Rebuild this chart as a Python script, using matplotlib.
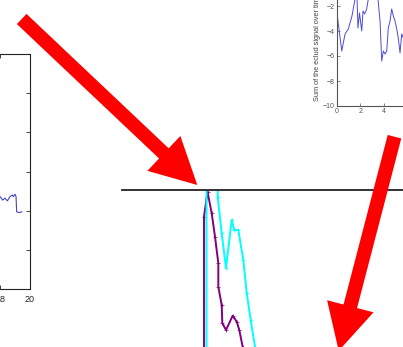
import matplotlib
matplotlib.use("Agg")
import matplotlib.pyplot as plt
from matplotlib.patches import FancyArrow

plt.rcParams['font.family'] = ['Liberation Sans', 'DejaVu Sans']

W, H = 403, 347

# left panel: tail end of a running signal
left_x = [18.0, 18.18, 18.33, 18.49, 18.67, 18.82, 18.89, 19.0, 19.07, 19.11, 19.29, 19.45]
left_y = [2.36, 2.27, 2.32, 2.25, 2.36, 2.40, 2.36, 2.42, 2.36, 1.97, 1.95, 1.97]
left_xticks = list(range(0, 21, 2))
left_xlabels = ['' if t < 18 else str(t) for t in left_xticks]

# top right panel: summed euclid signal
sum_x = [0.0, 0.43, 0.71, 0.99, 1.30, 1.56, 1.73, 1.81, 1.94, 2.13, 2.24, 2.38, 2.55,
         2.69, 3.0, 3.3, 3.51, 3.69, 3.83, 3.97, 4.11, 4.26, 4.39, 4.54, 4.68, 4.82,
         4.96, 5.11, 5.24, 5.39, 5.53, 5.67]
sum_y = [-2.4, -5.6, -4.24, -3.84, -2.8, -1.44, -1.4, -3.76, -2.56, -4.0, -2.4, -2.64, -2.24,
         -1.44, -0.8, -1.0, -1.44, -3.2, -6.4, -5.6, -5.84, -5.6, -3.76, -3.2, -2.24, -2.8,
         -3.2, -3.84, -4.56, -5.76, -4.24, -4.56]
sum_label = "Sum of the eclud signal over time"

# bottom panel: two traces hanging from the zero line
purple_x = [8.2, 8.2, 8.55, 8.97, 9.3, 9.63, 9.63, 9.97, 10.03, 10.4, 11.07, 11.47, 11.73, 12.07, 12.35]
purple_y = [-17, -2.67, -0.17, -2.33, -4.67, -7.3, -9.67, -11.5, -13.3, -14.0, -12.57, -13.17, -14.0, -15.7, -17.5]
cyan_x = [8.45, 8.45, 9.1, 9.57, 9.57, 9.97, 10.4, 10.97, 11.23, 11.63, 12.13, 12.47, 12.87, 13.3, 13.5]
cyan_y = [-17, 0.5, 1.0, 0.5, -0.7, -4.33, -7.8, -3.0, -4.0, -4.0, -7.0, -10.3, -13.0, -15.7, -17.5]

# arrows: (tail x, tail y, tip x, tip y) in pixels
arrows = [(21.7, 19.0, 197.3, 185.0),
          (394.5, 136.7, 338.7, 350.8)]


def px_axes(fig, x0, y0, x1, y1):
    # place an axes using pixel edges measured from the top-left corner
    ax = fig.add_axes([x0 / W, 1 - y1 / H, (x1 - x0) / W, (y1 - y0) / H])
    ax.set_facecolor('none')
    return ax


fig = plt.figure(figsize=(W / 100, H / 100), dpi=100)

## left panel
ax1 = px_axes(fig, -270, 54, 30, 289)
ax1.plot(left_x, left_y, color='#4646c0', lw=0.8)
ax1.set_xlim(0, 20)
ax1.set_ylim(0, 6)
ax1.set_xticks(left_xticks, labels=left_xlabels)
ax1.set_yticks(range(0, 7))
ax1.tick_params(direction='in', top=True, right=True, length=3, width=0.6,
                labelsize=6.5, pad=4, colors='#222222')
ax1.tick_params(axis='y', labelleft=False)
for s in ax1.spines.values():
    s.set_linewidth(0.8)
    s.set_color('#222222')

## top right panel
ax2 = px_axes(fig, 336.7, -19, 454.2, 106)
ax2.plot(sum_x, sum_y, color='#4b4bdc', lw=0.7)
ax2.set_xlim(0, 10)
ax2.set_ylim(-10, 0)
ax2.set_xticks(range(0, 5, 2))
ax2.set_yticks(range(-10, -1, 2))
ax2.tick_params(direction='in', top=True, right=True, length=2, width=0.5,
                labelsize=5, pad=1.5, colors='#555555')
for s in ax2.spines.values():
    s.set_linewidth(0.8)
    s.set_color('#555555')
ax2.set_ylabel(sum_label, loc='bottom', fontsize=5.3, color='#444444')
ax2.yaxis.set_label_coords(-0.134, 0.04)

## bottom panel
ax3 = px_axes(fig, 122, 190, 403, 350)
ax3.plot(purple_x, purple_y, color='#800080', lw=1.4, marker='+', ms=2.5, mew=0.5)
ax3.plot(cyan_x, cyan_y, color='#00ffff', lw=1.4, marker='+', ms=2.5, mew=0.5)
ax3.set_xlim(0, 28.1)
ax3.set_ylim(-16, 0)
ax3.set_xticks([])
ax3.set_yticks([])
for name, s in ax3.spines.items():
    s.set_visible(name == 'top')
ax3.spines['top'].set_linewidth(1.3)
ax3.spines['top'].set_color('#222222')

## red arrows over everything
ov = fig.add_axes([0, 0, 1, 1])
ov.set_facecolor('none')
ov.set_xlim(0, W)
ov.set_ylim(H, 0)
ov.axis('off')
for x0, y0, x1, y1 in arrows:
    ov.add_patch(FancyArrow(x0, y0, x1 - x0, y1 - y0, width=14, head_width=48,
                            head_length=46, length_includes_head=True,
                            color='#ff0000', lw=0))

fig.savefig('out.png', dpi=100)
